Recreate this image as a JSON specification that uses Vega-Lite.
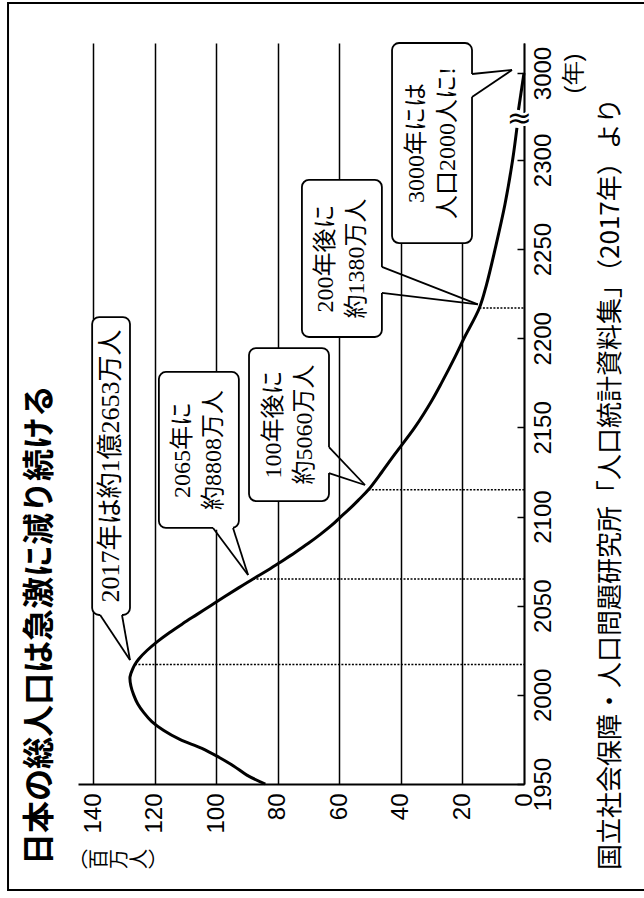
{
  "$schema": "https://vega.github.io/schema/vega-lite/v6.json",
  "width": 446,
  "height": 741,
  "autosize": {"type": "none"},
  "padding": {"left": 78, "top": 43, "right": 120, "bottom": 114},
  "background": "white",
  "config": {"view": {"stroke": null}, "font": "Noto Sans CJK JP"},
  "datasets": {
    "curve": [
      {"seg": 1, "yr": 1950, "v": 84.1}, {"seg": 1, "yr": 1955, "v": 90.1}, {"seg": 1, "yr": 1960, "v": 94.3},
      {"seg": 1, "yr": 1965, "v": 99.2}, {"seg": 1, "yr": 1970, "v": 104.7}, {"seg": 1, "yr": 1975, "v": 111.9},
      {"seg": 1, "yr": 1980, "v": 117.1}, {"seg": 1, "yr": 1985, "v": 121.0}, {"seg": 1, "yr": 1990, "v": 123.6},
      {"seg": 1, "yr": 1995, "v": 125.6}, {"seg": 1, "yr": 2000, "v": 126.9}, {"seg": 1, "yr": 2005, "v": 127.8},
      {"seg": 1, "yr": 2010, "v": 128.1}, {"seg": 1, "yr": 2015, "v": 127.1}, {"seg": 1, "yr": 2017, "v": 126.5},
      {"seg": 1, "yr": 2020, "v": 125.3}, {"seg": 1, "yr": 2025, "v": 122.5}, {"seg": 1, "yr": 2030, "v": 119.1},
      {"seg": 1, "yr": 2035, "v": 115.2}, {"seg": 1, "yr": 2040, "v": 110.9}, {"seg": 1, "yr": 2045, "v": 106.4},
      {"seg": 1, "yr": 2050, "v": 101.9}, {"seg": 1, "yr": 2055, "v": 97.4}, {"seg": 1, "yr": 2060, "v": 92.8},
      {"seg": 1, "yr": 2065, "v": 88.1}, {"seg": 1, "yr": 2070, "v": 83.2}, {"seg": 1, "yr": 2075, "v": 78.7},
      {"seg": 1, "yr": 2080, "v": 74.3}, {"seg": 1, "yr": 2085, "v": 70.1}, {"seg": 1, "yr": 2090, "v": 66.2},
      {"seg": 1, "yr": 2095, "v": 62.6}, {"seg": 1, "yr": 2100, "v": 59.5}, {"seg": 1, "yr": 2105, "v": 56.3},
      {"seg": 1, "yr": 2110, "v": 53.4}, {"seg": 1, "yr": 2115, "v": 50.6}, {"seg": 1, "yr": 2125, "v": 46.2},
      {"seg": 1, "yr": 2135, "v": 42.0}, {"seg": 1, "yr": 2150, "v": 35.5}, {"seg": 1, "yr": 2165, "v": 30.0},
      {"seg": 1, "yr": 2175, "v": 26.8}, {"seg": 1, "yr": 2190, "v": 22.3}, {"seg": 1, "yr": 2200, "v": 19.5},
      {"seg": 1, "yr": 2217, "v": 14.5}, {"seg": 1, "yr": 2230, "v": 12.2}, {"seg": 1, "yr": 2250, "v": 9.4},
      {"seg": 1, "yr": 2275, "v": 6.2}, {"seg": 1, "yr": 2300, "v": 3.7}, {"seg": 1, "yr": 2318, "v": 2.3},
      {"seg": 2, "yr": 2411, "v": 1.8}, {"seg": 2, "yr": 3000, "v": 0.002}
    ],
    "marks": [
      {"yr": 2017, "v": 126.5}, {"yr": 2065, "v": 88.1}, {"yr": 2115, "v": 50.6}, {"yr": 2217, "v": 14.5}
    ],
    "boxes": [
      {"box": 1, "v": 140.4, "v2": 128.1, "yr": 2044.8, "yr2": 2211.9},
      {"box": 2, "v": 118.7, "v2": 92.7, "yr": 2093.6, "yr2": 2181.1},
      {"box": 3, "v": 89.4, "v2": 63.4, "yr": 2108.7, "yr2": 2194.5},
      {"box": 4, "v": 72.2, "v2": 46.2, "yr": 2200.7, "yr2": 2288.8},
      {"box": 5, "v": 42.9, "v2": 16.9, "yr": 2253.4, "yr2": 3020}
    ],
    "gaps": [
      {"box": 1, "v": 137.8, "yr": 2044.8, "v2": 130.7, "yr2": 2044.8},
      {"box": 2, "v": 101.1, "yr": 2093.6, "v2": 94.6, "yr2": 2093.6},
      {"box": 3, "v": 63.4, "yr": 2139, "v2": 63.4, "yr2": 2124.4},
      {"box": 4, "v": 46.2, "yr": 2240, "v2": 46.2, "yr2": 2225.4},
      {"box": 5, "v": 16.9, "yr": 2984, "v2": 16.9, "yr2": 2618}
    ],
    "pointers": [
      {"box": 1, "v": 137.8, "yr": 2044.8, "v2": 128.1, "yr2": 2019.5},
      {"box": 1, "v": 130.7, "yr": 2044.8, "v2": 128.1, "yr2": 2019.5},
      {"box": 2, "v": 101.1, "yr": 2093.6, "v2": 89.7, "yr2": 2067.2},
      {"box": 2, "v": 94.6, "yr": 2093.6, "v2": 89.7, "yr2": 2067.2},
      {"box": 3, "v": 63.4, "yr": 2139, "v2": 51.7, "yr2": 2117.7},
      {"box": 3, "v": 63.4, "yr": 2124.4, "v2": 51.7, "yr2": 2117.7},
      {"box": 4, "v": 46.2, "yr": 2240, "v2": 15.0, "yr2": 2219},
      {"box": 4, "v": 46.2, "yr": 2225.4, "v2": 15.0, "yr2": 2219},
      {"box": 5, "v": 16.9, "yr": 2984, "v2": 3.9, "yr2": 3002},
      {"box": 5, "v": 16.9, "yr": 2618, "v2": 3.9, "yr2": 3002}
    ],
    "boxtext1": [
      {"v": 134.25, "yr": 2128.35, "txt": "2017年は約1億2653万人"}
    ],
    "boxtext": [
      {"v": 105.7, "yr": 2137.35, "txt": "2065年に\n約8808万人"},
      {"v": 76.4, "yr": 2151.6, "txt": "100年後に\n約5060万人"},
      {"v": 59.2, "yr": 2244.75, "txt": "200年後に\n約1380万人"},
      {"v": 29.9, "yr": 2309.5, "txt": "3000年には\n人口2000人に!"}
    ],
    "title": [{"v": 157.3, "yr": 1904.6, "txt": "日本の総人口は急激に減り続ける"}],
    "source": [{"v": -28.3, "yr": 1901.8, "txt": "国立社会保障・人口問題研究所「人口統計資料集」（2017年）より"}],
    "unit": [{"v": 131.3, "yr": 1907.9, "txt": "︵\n百\n万\n人\n︶"}],
    "brk": [{"v": 1.5, "yr": 2323, "txt": "≈"}],
    "frame": [{"v": 167.75, "v2": -43, "yr": 1890.55, "yr2": 3046.7}]
  },
  "layer": [
    {
      "data": {"name": "frame"},
      "mark": {"type": "rect", "filled": false, "stroke": "black", "strokeWidth": 2},
      "encoding": {
        "x": {"field": "v", "type": "quantitative", "title": null},
        "x2": {"field": "v2"},
        "y": {"field": "yr", "type": "quantitative", "title": null},
        "y2": {"field": "yr2"}
      }
    },
    {
      "data": {"name": "marks"},
      "mark": {"type": "rule", "color": "black", "strokeWidth": 1.6, "strokeDash": [2, 1.5]},
      "encoding": {
        "x": {"field": "v", "type": "quantitative", "title": null},
        "x2": {"datum": 0},
        "y": {"field": "yr", "type": "quantitative", "title": null}
      }
    },
    {
      "data": {"name": "curve"},
      "mark": {"type": "line", "color": "black", "strokeWidth": 3, "interpolate": "catmull-rom"},
      "encoding": {
        "x": {
          "field": "v", "type": "quantitative", "title": null,
          "scale": {"domain": [0, 145], "reverse": true, "nice": false, "zero": false},
          "axis": {
            "orient": "bottom", "values": [0, 20, 40, 60, 80, 100, 120, 140],
            "labelAngle": 270, "labelAlign": "right", "labelBaseline": "middle", "labelPadding": 9,
            "labelFont": "Liberation Sans", "labelFontSize": 24, "labelColor": "black",
            "labelOverlap": false, "labelFlush": false, "labelBound": false,
            "ticks": false, "grid": true, "gridColor": "black", "gridWidth": 1.5, "gridOpacity": 1,
            "domainColor": "black", "domainWidth": 1.8
          }
        },
        "y": {
          "field": "yr", "type": "quantitative", "title": null,
          "scale": {"domain": [1950, 2325, 3000, 3020], "range": [741, 72.4, 30, 0], "nice": false, "zero": false},
          "axis": {
            "orient": "right", "values": [1950, 2000, 2050, 2100, 2150, 2200, 2250, 2300, 3000],
            "labelExpr": "datum.value == 3000 ? ['3000', '(年)'] : '' + datum.value",
            "labelAngle": 270, "labelAlign": "center", "labelBaseline": "top", "labelPadding": 14,
            "labelFont": "Liberation Sans", "labelFontSize": 24, "labelColor": "black", "labelLineHeight": 30,
            "labelOverlap": false, "labelFlush": false, "labelBound": false,
            "ticks": true, "tickSize": -7, "tickColor": "black", "tickWidth": 1.5,
            "grid": false, "domainColor": "black", "domainWidth": 1.8
          }
        },
        "order": {"field": "yr", "type": "quantitative"},
        "detail": {"field": "seg", "type": "nominal"}
      }
    },
    {
      "data": {"name": "boxes"},
      "mark": {"type": "rect", "fill": "white", "stroke": "black", "strokeWidth": 1.8, "cornerRadius": 7},
      "encoding": {
        "x": {"field": "v", "type": "quantitative", "title": null},
        "x2": {"field": "v2"},
        "y": {"field": "yr", "type": "quantitative", "title": null},
        "y2": {"field": "yr2"}
      }
    },
    {
      "data": {"name": "gaps"},
      "mark": {"type": "rule", "color": "white", "strokeWidth": 3.5},
      "encoding": {
        "x": {"field": "v", "type": "quantitative", "title": null},
        "x2": {"field": "v2"},
        "y": {"field": "yr", "type": "quantitative", "title": null},
        "y2": {"field": "yr2"}
      }
    },
    {
      "data": {"name": "pointers"},
      "mark": {"type": "rule", "color": "black", "strokeWidth": 1.8},
      "encoding": {
        "x": {"field": "v", "type": "quantitative", "title": null},
        "x2": {"field": "v2"},
        "y": {"field": "yr", "type": "quantitative", "title": null},
        "y2": {"field": "yr2"}
      }
    },
    {
      "data": {"name": "boxtext1"},
      "mark": {"type": "text", "angle": 270, "align": "center", "baseline": "middle", "fontSize": 26, "font": "'Liberation Serif', 'Noto Sans CJK JP'", "color": "black"},
      "encoding": {
        "x": {"field": "v", "type": "quantitative", "title": null},
        "y": {"field": "yr", "type": "quantitative", "title": null},
        "text": {"field": "txt", "type": "nominal"}
      }
    },
    {
      "data": {"name": "boxtext"},
      "mark": {"type": "text", "angle": 270, "align": "center", "baseline": "middle", "fontSize": 24, "lineHeight": 31, "dy": -15.5, "lineBreak": "\n", "font": "'Liberation Serif', 'Noto Sans CJK JP'", "color": "black"},
      "encoding": {
        "x": {"field": "v", "type": "quantitative", "title": null},
        "y": {"field": "yr", "type": "quantitative", "title": null},
        "text": {"field": "txt", "type": "nominal"}
      }
    },
    {
      "data": {"name": "title"},
      "mark": {"type": "text", "angle": 270, "align": "left", "baseline": "middle", "fontSize": 32, "fontWeight": "bold", "font": "Noto Sans CJK JP", "color": "black"},
      "encoding": {
        "x": {"field": "v", "type": "quantitative", "title": null},
        "y": {"field": "yr", "type": "quantitative", "title": null},
        "text": {"field": "txt", "type": "nominal"}
      }
    },
    {
      "data": {"name": "source"},
      "mark": {"type": "text", "angle": 270, "align": "left", "baseline": "middle", "fontSize": 26, "font": "Noto Sans CJK JP", "color": "black"},
      "encoding": {
        "x": {"field": "v", "type": "quantitative", "title": null},
        "y": {"field": "yr", "type": "quantitative", "title": null},
        "text": {"field": "txt", "type": "nominal"}
      }
    },
    {
      "data": {"name": "unit"},
      "mark": {"type": "text", "angle": 270, "align": "center", "baseline": "middle", "fontSize": 20, "lineHeight": 20, "dy": -40, "lineBreak": "\n", "font": "Noto Sans CJK JP", "color": "black"},
      "encoding": {
        "x": {"field": "v", "type": "quantitative", "title": null},
        "y": {"field": "yr", "type": "quantitative", "title": null},
        "text": {"field": "txt", "type": "nominal"}
      }
    },
    {
      "data": {"name": "brk"},
      "mark": {"type": "text", "align": "center", "baseline": "middle", "fontSize": 30, "font": "DejaVu Sans", "fill": "white", "stroke": "white", "strokeWidth": 5},
      "encoding": {
        "x": {"field": "v", "type": "quantitative", "title": null},
        "y": {"field": "yr", "type": "quantitative", "title": null},
        "text": {"field": "txt", "type": "nominal"}
      }
    },
    {
      "data": {"name": "brk"},
      "mark": {"type": "text", "align": "center", "baseline": "middle", "fontSize": 30, "font": "DejaVu Sans", "color": "black"},
      "encoding": {
        "x": {"field": "v", "type": "quantitative", "title": null},
        "y": {"field": "yr", "type": "quantitative", "title": null},
        "text": {"field": "txt", "type": "nominal"}
      }
    }
  ]
}
